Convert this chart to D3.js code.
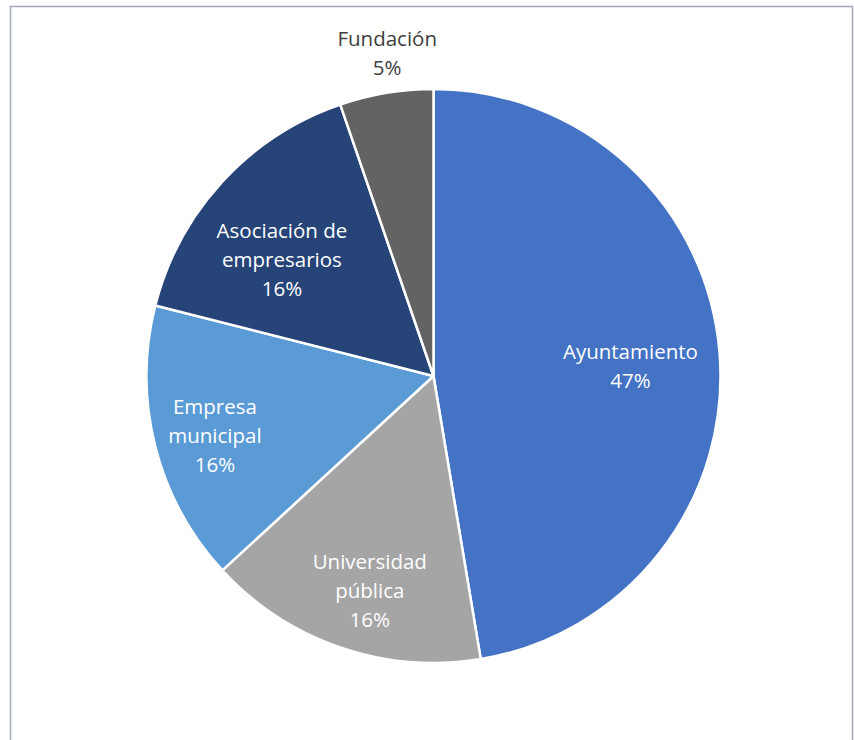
<!DOCTYPE html>
<html>
<head>
<meta charset="utf-8">
<script src="https://cdn.jsdelivr.net/npm/d3@7"></script>
<style>
  html, body { margin: 0; padding: 0; background: #fff; }
  svg { display: block; }
</style>
</head>
<body>
<svg id="chart" width="854" height="740"></svg>
<script>
// Participating entities by type (counts)
const categories = ["Ayuntamiento", "Universidad pública", "Empresa municipal", "Asociación de empresarios", "Fundación"];
const values = [9, 3, 3, 3, 1];
// Label lines shown for each slice
const labelLines = [
  ["Ayuntamiento"],
  ["Universidad", "pública"],
  ["Empresa", "municipal"],
  ["Asociación de", "empresarios"],
  ["Fundación"]
];
const colors = ["#4472C4", "#A5A5A5", "#5B9BD5", "#264478", "#636363"];

// Label placement: fraction of radius along slice bisector plus angular nudge (degrees)
const labelLayout = {
  "Ayuntamiento": { k: 0.687, da: 1.9 },
  "Universidad pública": { k: 0.78, da: -2.4 },
  "Empresa municipal": { k: 0.79, da: -1.2 },
  "Asociación de empresarios": { k: 0.665, da: -5.2 },
  "Fundación": { k: 1.135, da: 1.3 }
};

const svg = d3.select("#chart");

// Outer chart frame
svg.append("rect")
  .attr("x", 10.5).attr("y", 6.5)
  .attr("width", 842).attr("height", 760)
  .attr("fill", "none")
  .attr("stroke", "#A3A8B4")
  .attr("stroke-width", 1.5);

const cx = 433.5, cy = 376, r = 287;
const total = d3.sum(values);
const data = categories.map((c, i) => ({ cat: c, value: values[i], lines: labelLines[i], color: colors[i] }));

const pie = d3.pie().value(d => d.value).sort(null);
const arc = d3.arc().innerRadius(0).outerRadius(r);
const arcs = pie(data);

const g = svg.append("g").attr("transform", `translate(${cx},${cy})`);

g.selectAll("path.slice")
  .data(arcs)
  .join("path")
  .attr("class", "slice")
  .attr("d", arc)
  .attr("fill", d => d.data.color)
  .attr("stroke", "#fff")
  .attr("stroke-width", 2.5)
  .attr("stroke-linejoin", "round");

const fontSize = 20.5, lineH = 29;
g.selectAll("text.lbl")
  .data(arcs)
  .join("text")
  .attr("class", "lbl")
  .attr("text-anchor", "middle")
  .attr("font-family", "'Open Sans', 'Noto Sans', sans-serif")
  .attr("font-size", fontSize)
  .attr("fill", d => d.data.cat === "Fundación" ? "#404040" : "#fff")
  .each(function(d) {
    const lay = labelLayout[d.data.cat];
    const a = (d.startAngle + d.endAngle) / 2 + lay.da * Math.PI / 180;
    const x = Math.sin(a) * r * lay.k;
    const y = -Math.cos(a) * r * lay.k;
    const pct = Math.round(d.data.value / total * 100) + "%";
    const lines = d.data.lines.concat([pct]);
    const n = lines.length;
    const t = d3.select(this);
    lines.forEach((ln, i) => {
      t.append("tspan")
        .attr("x", x)
        .attr("y", y + (i - (n - 1) / 2) * lineH)
        .attr("dy", "0.35em")
        .text(ln);
    });
  });
</script>
</body>
</html>
